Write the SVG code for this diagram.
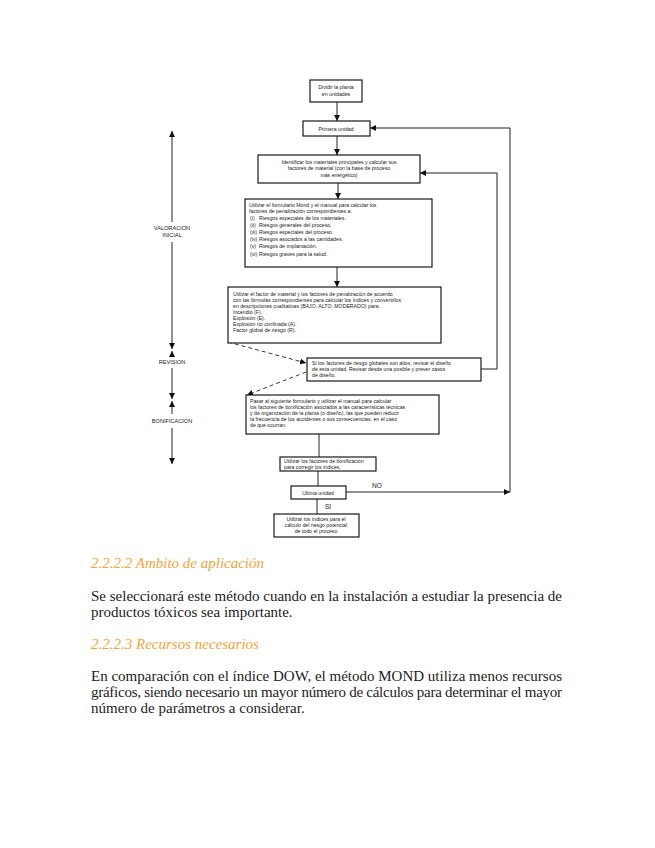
<svg xmlns="http://www.w3.org/2000/svg" width="655" height="848" viewBox="0 0 655 848">
<defs>
<marker id="ah" viewBox="0 0 10 10" refX="10" refY="5" markerWidth="6" markerHeight="6" orient="auto" markerUnits="userSpaceOnUse"><path d="M0,0 L10,5 L0,10 z" fill="#111"/></marker>
<style>
.bx{fill:#fff;stroke:#1a1a1a;stroke-width:1.2}
.ft{font-family:"Liberation Sans",Arial,sans-serif;font-size:5.2px;fill:#222}
.c{text-anchor:middle}
.ln{fill:none;stroke:#222;stroke-width:1}
.ds{fill:none;stroke:#222;stroke-width:0.9;stroke-dasharray:4,3}
.ax{font-family:"Liberation Sans",Arial,sans-serif;font-size:5.6px;fill:#222;text-anchor:middle}
.h{font-family:"Liberation Serif","Times New Roman",serif;font-size:15px;font-style:italic;fill:#f5a33a}
.p{font-family:"Liberation Serif","Times New Roman",serif;font-size:15px;fill:#222}
</style>
</defs>
<rect width="655" height="848" fill="#fff"/>

<g id="connectors">
<path class="ln" d="M337,102 V121" marker-end="url(#ah)"/>
<path class="ln" d="M337,136 V155" marker-end="url(#ah)"/>
<path class="ln" d="M338,183 V199" marker-end="url(#ah)"/>
<path class="ln" d="M337,267 V287" marker-end="url(#ah)"/>
<path class="ds" d="M228,342 L306,363" marker-end="url(#ah)"/>
<path class="ds" d="M306,372 L247,395" marker-end="url(#ah)"/>
<path class="ln" d="M319,434 V457"/>
<path class="ln" d="M318,471 V486"/>
<path class="ln" d="M317,499 V514"/>
<path class="ln" d="M346,492 H510" marker-end="url(#ah)"/>
<path class="ln" d="M510,492 V128 H370" marker-end="url(#ah)"/>
<path class="ln" d="M481,369 H497 V173 H420" marker-end="url(#ah)"/>
<text class="ft" x="372" y="488" style="font-size:6.5px">NO</text>
<text class="ft" x="325" y="509" style="font-size:6.5px">SI</text>
</g>

<g id="axis">
<path class="ln" d="M172,222 V131" marker-end="url(#ah)"/>
<path class="ln" d="M172,242 V349" marker-end="url(#ah)"/>
<path class="ln" d="M172,356 V351" marker-end="url(#ah)"/>
<path class="ln" d="M172,368 V399" marker-end="url(#ah)"/>
<path class="ln" d="M172,414 V401" marker-end="url(#ah)"/>
<path class="ln" d="M172,428 V464" marker-end="url(#ah)"/>
<text class="ax" x="172" y="230">VALORACION</text>
<text class="ax" x="172" y="237">INICIAL</text>
<text class="ax" x="172" y="364">REVISION</text>
<text class="ax" x="172" y="423">BONIFICACION</text>
</g>

<g id="n1"><rect class="bx" x="310" y="80" width="52" height="22"/>
<text class="ft c" x="336" y="89">Dividir la planta</text><text class="ft c" x="336" y="96">en unidades</text></g>

<g id="n2"><rect class="bx" x="303" y="121" width="67" height="15"/>
<text class="ft c" x="336" y="130.5">Primera unidad</text></g>

<g id="n3"><rect class="bx" x="258" y="155" width="162" height="28"/>
<text class="ft c" x="339" y="163.5">Identificar los materiales principales y calcular sus</text>
<text class="ft c" x="339" y="170">factores de material (con la base de proceso</text>
<text class="ft c" x="339" y="176.5">más energético)</text></g>

<g id="n4"><rect class="bx" x="245" y="199" width="187" height="68"/>
<text class="ft" x="249" y="207">Utilizar el formulario Mond y el manual para calcular los</text>
<text class="ft" x="249" y="213">factores de penalización correspondientes a:</text>
<text class="ft" x="250" y="220">(i)</text><text class="ft" x="259" y="220">Riesgos especiales de los materiales.</text>
<text class="ft" x="250" y="227">(ii)</text><text class="ft" x="259" y="227">Riesgos generales del proceso.</text>
<text class="ft" x="250" y="234">(iii)</text><text class="ft" x="259" y="234">Riesgos especiales del proceso.</text>
<text class="ft" x="250" y="241">(iv)</text><text class="ft" x="259" y="241">Riesgos asociados a las cantidades.</text>
<text class="ft" x="250" y="248">(v)</text><text class="ft" x="259" y="248">Riesgos de implantación.</text>
<text class="ft" x="250" y="256">(vi)</text><text class="ft" x="259" y="256">Riesgos graves para la salud.</text></g>

<g id="n5"><rect class="bx" x="228" y="287" width="213" height="56"/>
<text class="ft" x="233" y="296">Utilizar el factor de material y los factores de penalización de acuerdo</text>
<text class="ft" x="233" y="302">con las fórmulas correspondientes para calcular los índices y convertirlos</text>
<text class="ft" x="233" y="308">en descripciones cualitativas (BAJO, ALTO, MODERADO) para:</text>
<text class="ft" x="233" y="314">Incendio (F).</text>
<text class="ft" x="233" y="320">Explosión (E).</text>
<text class="ft" x="233" y="326">Explosión no confinada (A).</text>
<text class="ft" x="233" y="332">Factor global de riesgo (R).</text></g>

<g id="n6"><rect class="bx" x="307" y="358" width="174" height="23"/>
<text class="ft" x="312" y="365">Si los factores de riesgo globales son altos, revisar el diseño</text>
<text class="ft" x="312" y="371">de esta unidad. Revisar desde una posible y prever casos</text>
<text class="ft" x="312" y="377">de diseño.</text></g>

<g id="n7"><rect class="bx" x="246" y="395" width="193" height="39"/>
<text class="ft" x="250" y="403">Pasar al siguiente formulario y utilizar el manual para calcular</text>
<text class="ft" x="250" y="409">los factores de bonificación asociados a las características técnicas</text>
<text class="ft" x="250" y="415">y de organización de la planta (o diseño), las que pueden reducir</text>
<text class="ft" x="250" y="421">la frecuencia de los accidentes o sus consecuencias, en el caso</text>
<text class="ft" x="250" y="427">de que ocurran.</text></g>

<g id="n8"><rect class="bx" x="280" y="457" width="96" height="14"/>
<text class="ft" x="284" y="463">Utilizar los factores de bonificación</text>
<text class="ft" x="284" y="469">para corregir los índices.</text></g>

<g id="n9"><rect class="bx" x="291" y="486" width="55" height="13"/>
<text class="ft c" x="318" y="494.5">Ultima unidad</text></g>

<g id="n10"><rect class="bx" x="274" y="514" width="85" height="23"/>
<text class="ft c" x="316" y="521">Utilizar los índices para el</text>
<text class="ft c" x="316" y="527">cálculo del riesgo potencial</text>
<text class="ft c" x="316" y="533">de todo el proceso</text></g>

<g id="body">
<text class="h" x="91" y="568">2.2.2.2 Ambito de aplicación</text>
<text class="p" x="91" y="601" textLength="471" lengthAdjust="spacing">Se seleccionará este método cuando en la instalación a estudiar la presencia de</text>
<text class="p" x="91" y="617">productos tóxicos sea importante.</text>
<text class="h" x="91" y="649">2.2.2.3 Recursos necesarios</text>
<text class="p" x="91" y="681" textLength="471" lengthAdjust="spacing">En comparación con el índice DOW, el método MOND utiliza menos recursos</text>
<text class="p" x="91" y="697" textLength="471" lengthAdjust="spacing">gráficos, siendo necesario un mayor número de cálculos para determinar el mayor</text>
<text class="p" x="91" y="713">número de parámetros a considerar.</text>
</g>
</svg>
